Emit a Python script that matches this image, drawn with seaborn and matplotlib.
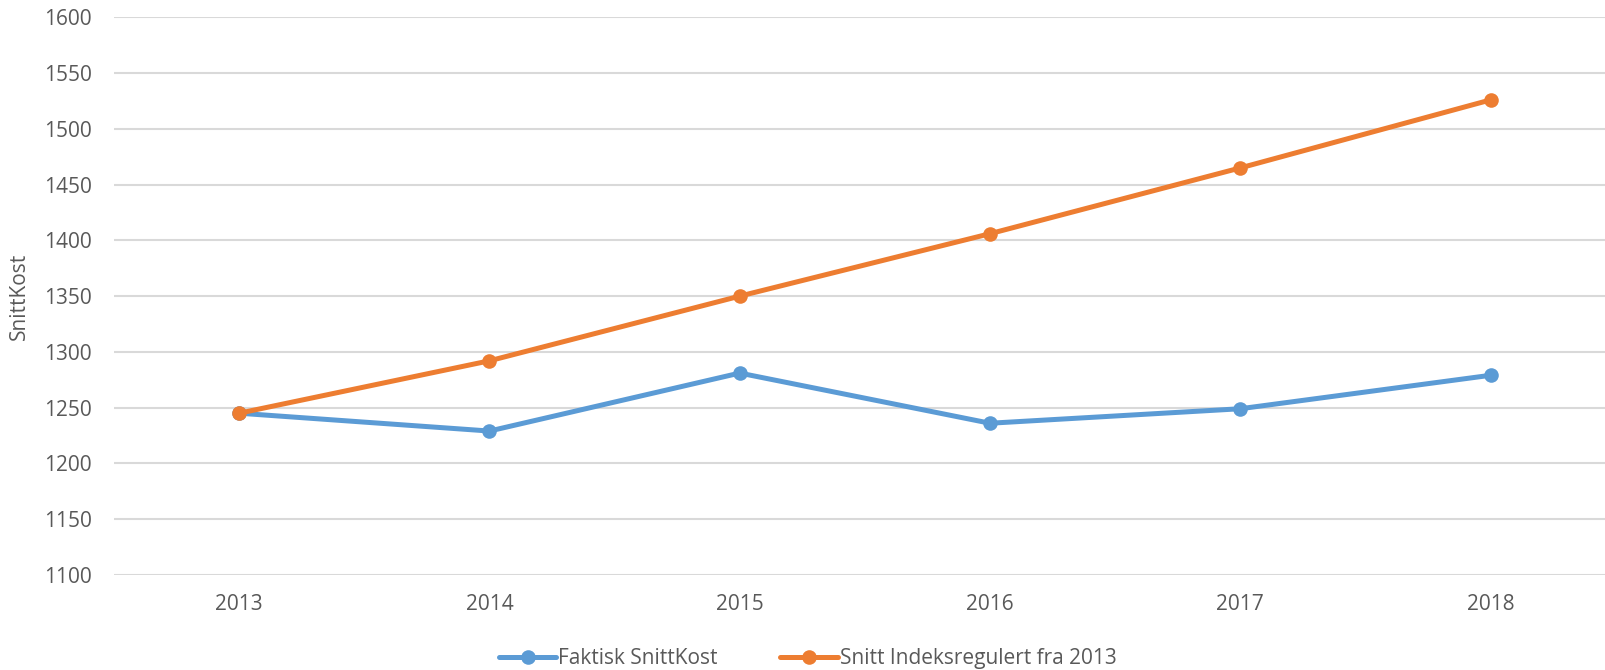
import matplotlib
matplotlib.use("Agg")
import matplotlib.pyplot as plt
import pandas as pd
import seaborn as sns

years = [2013, 2014, 2015, 2016, 2017, 2018]
faktisk = [1245, 1229, 1281, 1236, 1249, 1279]
indeksregulert = [1245, 1292, 1350, 1406, 1465, 1526]
series_names = ["Faktisk SnittKost", "Snitt Indeksregulert fra 2013"]

df = pd.DataFrame({
    "År": years * 2,
    "SnittKost": faktisk + indeksregulert,
    "Serie": [series_names[0]] * len(years) + [series_names[1]] * len(years),
})

sns.set_style("white")
plt.rcParams["font.family"] = ["Open Sans", "DejaVu Sans"]

fig = plt.figure(figsize=(16.06, 6.70), dpi=100)
ax = fig.add_axes([0.071, 0.142, 0.935, 0.832])

sns.lineplot(
    data=df, x="År", y="SnittKost", hue="Serie",
    palette=["#5B9BD5", "#ED7D31"], marker="o", markersize=10.5,
    markeredgewidth=0, linewidth=3.6, ax=ax,
)

ax.set_xlim(2012.5, 2018.5)
ax.set_ylim(1100, 1600)
ax.set_yticks(range(1100, 1601, 50))
ax.set_xticks(years)
ax.grid(axis="y", color="#D9D9D9", linewidth=1.5)
ax.set_axisbelow(True)
for s in ax.spines.values():
    s.set_visible(False)
ax.tick_params(axis="both", length=0, labelsize=15, colors="#595959")
ax.tick_params(axis="x", pad=14)
ax.tick_params(axis="y", pad=16)
ax.set_xlabel("")
ax.set_ylabel("SnittKost", fontsize=15, color="#595959", labelpad=10)

ax.legend(
    loc="center", bbox_to_anchor=(0.462, -0.15), ncol=2,
    frameon=False, fontsize=15, labelcolor="#595959",
    handlelength=2.75, handletextpad=0.1, columnspacing=3.0,
)

fig.savefig("out.png", dpi=100)
